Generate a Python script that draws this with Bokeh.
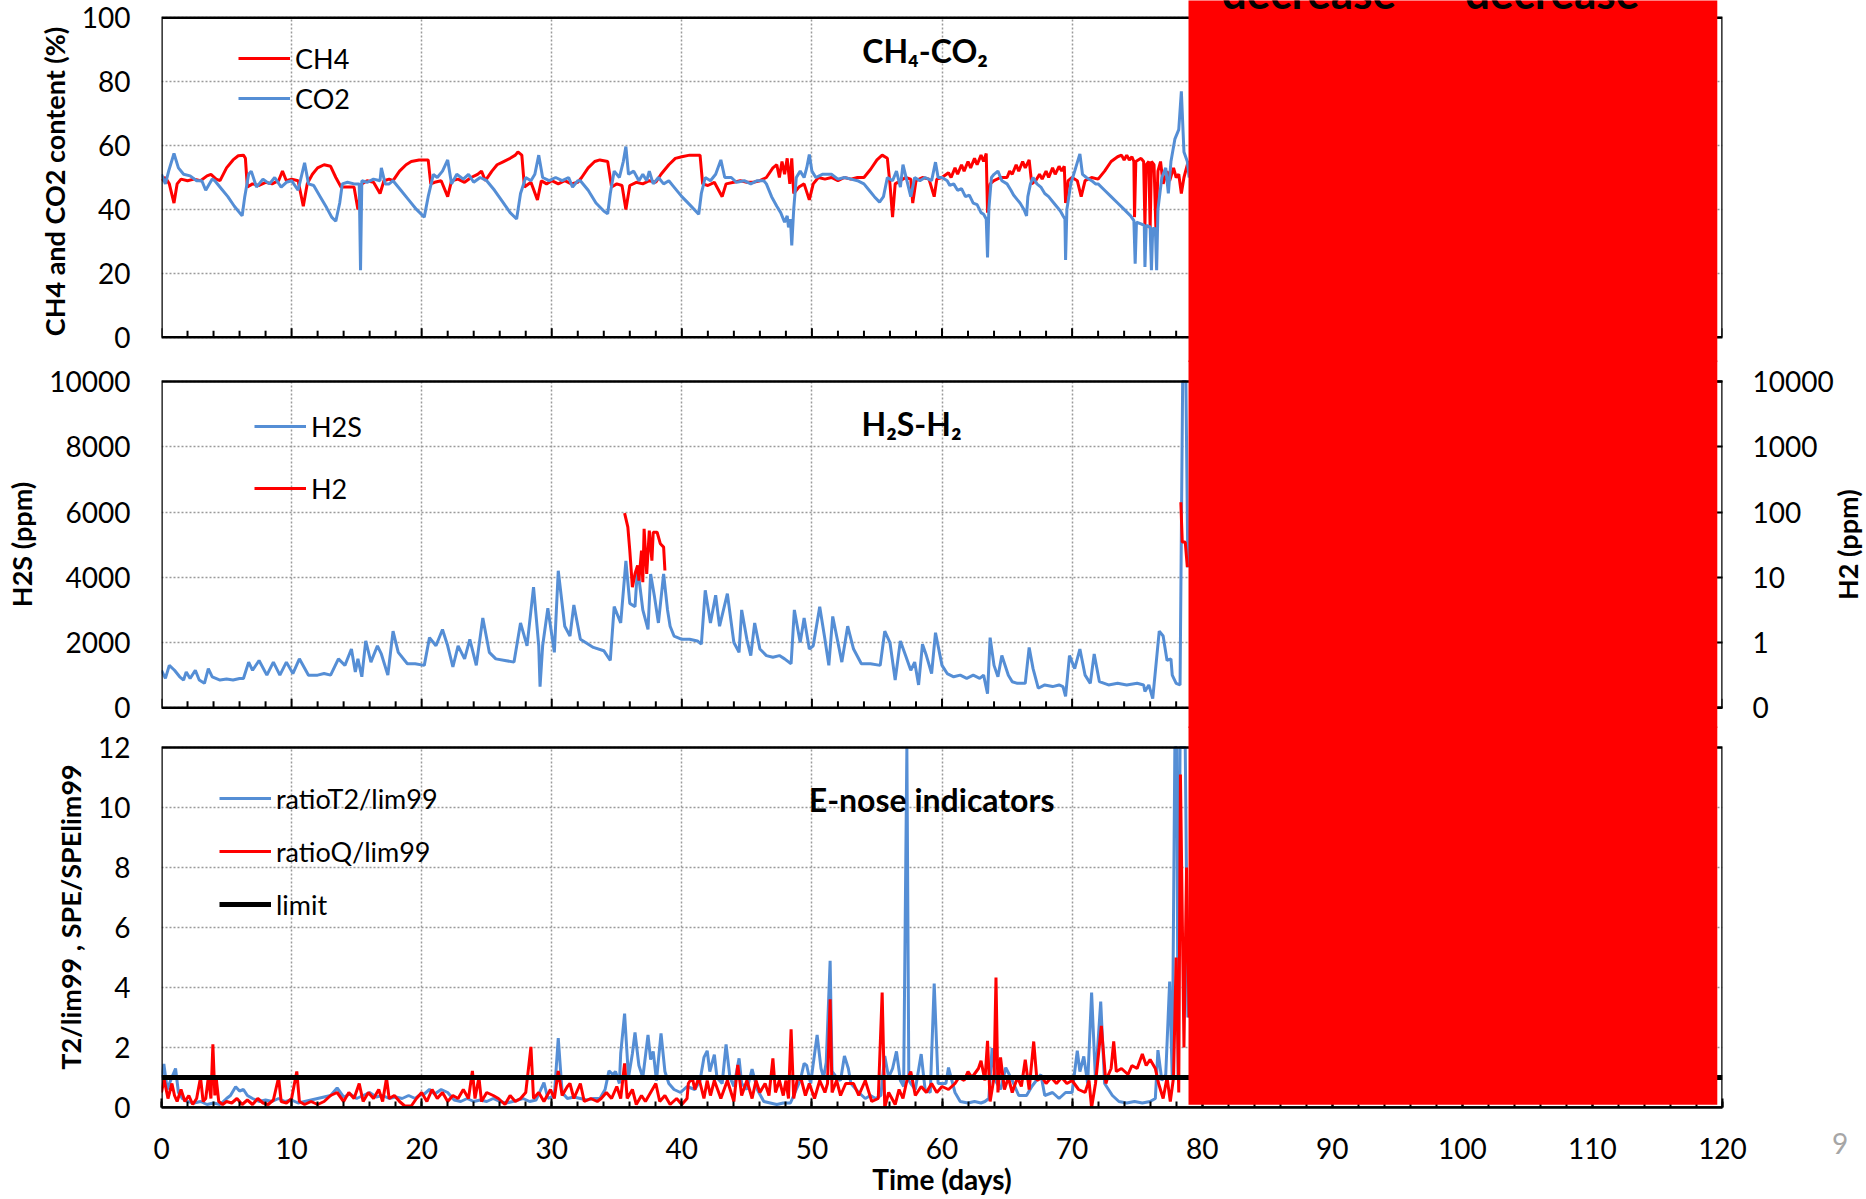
import math
from bokeh.plotting import figure
from bokeh.layouts import column
from bokeh.models import (Range1d, LinearAxis, LogScale, FixedTicker, Div,
                          SingleIntervalTicker, CustomJSTickFormatter, Legend,
                          LegendItem, Grid, Label, BoxAnnotation)
from bokeh.embed import file_html
from bokeh.resources import INLINE

# ---------------- data ----------------
ch4_points = [(0.0,49),(0.3,50),(0.6,48),(0.96,42),(1.2,48),(1.5,49.5),(2.0,49),(2.5,49.5),(3.0,49),
 (3.5,50.5),(3.8,51),(4.2,49.5),(4.5,49),(5.0,53),(5.5,55.5),(5.9,56.8),(6.3,57),(6.45,56),(6.6,47),
 (7.0,48),(7.5,47.5),(8.0,48.5),(8.5,48),(9.0,49),(9.3,52),(9.6,49),(10.0,49.5),(10.5,49),(10.9,41),
 (11.2,48),(11.6,51),(12.0,53),(12.5,54),(13.0,53.5),(13.4,50),(13.8,47),(14.2,47),(14.8,47),(15.1,40),
 (15.4,48),(15.8,49),(16.3,48.5),(16.8,45),(17.1,49),(17.5,49.5),(17.8,49),(18.3,52),(18.8,54),(19.2,55),
 (19.8,55.5),(20.5,55.5),(20.7,48),(21.0,48.5),(21.5,49),(22.0,44),(22.3,49),(22.8,49.5),(23.3,48.5),
 (23.8,50),(24.3,51),(24.6,52),(24.9,49),(25.4,52),(25.8,54),(26.3,55),(26.8,56),(27.2,57),(27.4,58),
 (27.7,57),(27.9,47),(28.4,48.5),(28.9,43),(29.2,49),(29.6,48),(30.0,49),(30.5,48),(31.0,49),(31.5,48),
 (32.0,48.5),(32.3,50),(32.8,53),(33.3,55),(33.7,55.5),(34.3,55),(34.6,47),(35.0,48),(35.4,47.5),(35.7,40),
 (36.0,47.5),(36.5,48.5),(37.0,48),(37.5,49),(38.0,48.5),(38.4,51),(39.0,54),(39.5,56),(40.0,56.5),
 (40.6,57),(41.4,57),(41.6,48),(42.0,47.5),(42.5,48.5),(43.1,44),(43.4,48),(44.0,48.5),(44.5,49),
 (45.0,48.5),(45.5,48.5),(46.0,49),(46.5,50),(47.0,53),(47.3,54),(47.5,50),(47.7,55),(47.9,51),(48.1,56),
 (48.3,48),(48.45,56),(48.6,45),(49.0,47),(49.4,48),(49.8,43),(50.1,48),(50.5,50),(51.0,49.5),(51.5,50),
 (52.0,49),(52.5,50),(53.0,49.5),(53.5,50),(54.0,50),(54.5,52.5),(55.0,55.5),(55.4,57),(55.8,56),(56.0,48),
 (56.2,37.6),(56.4,48),(56.8,49),(57.2,50),(57.6,49.5),(57.75,42),(58.0,49),(58.5,50),(59.0,49.5),(59.4,44),
 (59.6,49.5),(60.0,50),(60.5,51.5),(60.7,50),(61.0,53),(61.2,51),(61.5,54),(61.7,52),(62.0,55),(62.2,53),
 (62.5,56),(62.7,54),(63.0,57),(63.2,55),(63.4,57.5),(63.5,39),(63.7,48),(64.0,49),(64.5,50),(65.0,50),
 (65.2,52),(65.4,51),(65.7,54),(65.9,52),(66.2,55),(66.4,53),(66.7,55.5),(66.9,48),(67.2,49),(67.5,51),
 (67.7,49.5),(68.0,52),(68.2,50),(68.5,53),(68.7,51),(69.0,53.5),(69.2,52),(69.4,53.5),(69.5,42),(69.7,49),
 (70.0,50),(70.4,49),(70.7,44),(71.0,49),(71.5,50),(72.0,49.5),(72.5,52),(73.0,55),(73.5,56.5),(73.8,57),
 (74.0,55.5),(74.2,57),(74.4,55.5),(74.6,56.5),(74.75,55),(74.8,37.6),(74.9,55),(75.3,56),(75.5,55),
 (75.6,35),(75.7,54),(75.9,55),(76.0,34),(76.1,55),(76.3,54),(76.45,33),(76.6,52),(76.8,55),(77.0,48),
 (77.3,52),(77.5,49),(77.8,53),(78.0,50),(78.2,51),(78.4,45),(78.6,50),(78.86,54),(79.0,55)]

co2_points = [(0.0,51),(0.3,48),(0.55,52),(0.96,57.5),(1.3,53),(1.7,51),(2.2,50.5),(2.7,49),(3.1,49),
 (3.4,46),(3.9,49.5),(4.1,49),(4.6,46.5),(5.1,44),(5.6,41),(6.2,38),(6.4,44),(6.7,51),(6.9,52),(7.3,47),
 (7.8,49.5),(8.3,48),(8.7,50),(9.2,47),(9.6,48.5),(10.0,49),(10.5,46),(11.0,54.6),(11.3,48),(11.7,47.5),
 (12.2,44),(12.7,40.5),(13.1,37.5),(13.4,36.3),(13.7,42),(13.9,48),(14.3,48.5),(14.8,48),(15.2,48),
 (15.3,21),(15.4,49),(15.8,48.5),(16.3,49.5),(16.8,49),(16.9,53),(17.2,48),(17.5,48),(17.8,49),(18.4,46),
 (19.0,43),(19.6,40),(20.2,37.6),(20.5,44),(20.9,51),(21.2,50),(21.6,52),(22.0,55.5),(22.3,48),(22.7,51),
 (23.2,49.5),(23.6,51),(24.0,48.5),(24.5,50),(25.0,49),(25.6,46),(26.2,42.5),(26.8,39),(27.3,37),
 (27.6,45),(28.0,50),(28.4,49),(28.7,51),(29.0,57),(29.3,50),(29.8,49),(30.3,50),(30.8,49),(31.3,50),
 (31.6,47),(32.0,49),(32.2,49),(32.8,46),(33.4,42),(34.0,39.5),(34.3,38.6),(34.5,45),(34.8,52),(35.2,50),
 (35.5,55),(35.7,59.7),(35.9,51),(36.3,52),(36.7,49),(37.0,51),(37.3,49),(37.5,52),(37.8,48),(38.2,50),
 (38.6,48),(39.0,49),(39.4,47),(40.0,44),(40.6,41.5),(41.3,38.5),(41.5,45),(41.8,50),(42.2,49),(42.6,51),
 (43.0,55.5),(43.3,50),(43.8,50),(44.2,48.5),(44.8,49),(45.3,48),(45.8,49),(46.3,49),(46.5,48),(46.9,44),
 (47.3,41),(47.6,39),(47.9,36),(48.1,38),(48.2,34.4),(48.35,37),(48.45,28.7),(48.6,40),(48.8,50),(49.1,52),
 (49.4,50),(49.6,53),(49.8,57.2),(50.0,52),(50.3,50),(50.8,51),(51.5,51),(52.0,49.5),(52.5,50),(53.0,49.5),
 (53.5,49),(54.0,48),(54.4,46),(54.8,44),(55.2,42.3),(55.5,44),(55.8,50),(56.2,49),(56.5,52),(56.8,47),
 (57.0,54),(57.3,49),(57.6,44),(57.9,50),(58.3,49),(58.7,50),(59.2,49),(59.5,54.8),(59.7,50),(60.0,50),
 (60.4,49),(60.6,47.5),(60.9,48),(61.2,46),(61.5,46.5),(61.8,44),(62.1,44.5),(62.4,42),(62.7,41.5),
 (63.0,39),(63.2,38.5),(63.4,37),(63.5,25),(63.6,40),(63.8,50),(64.0,51),(64.3,52),(64.6,49),(65.0,48),
 (65.3,46),(65.5,44.5),(65.8,43),(66.0,42),(66.3,40),(66.5,38),(66.6,44),(66.8,48),(67.0,50),(67.3,48),
 (67.6,47),(67.9,45),(68.2,44),(68.5,42.5),(68.8,41),(69.1,39.5),(69.3,38),(69.45,37),(69.5,24.2),
 (69.6,40),(69.9,48),(70.2,52),(70.6,57.4),(70.8,51),(71.1,50),(71.5,49),(71.8,48),(72.0,48),(72.5,46),
 (73.0,44),(73.5,42),(74.0,40),(74.5,38),(74.75,36.5),(74.85,23),(74.95,36),(75.3,35.5),(75.55,35),
 (75.6,22),(75.7,35),(76.0,34.5),(76.1,21),(76.2,34),(76.4,34),(76.5,21),(76.6,40),(76.9,50),(77.2,53),
 (77.4,45),(77.6,55),(77.9,62),(78.2,65),(78.4,77),(78.6,58),(78.86,55),(79.0,50)]

h2s_points = [(0.0,1150),(0.3,900),(0.6,1300),(1.0,1150),(1.4,950),(1.7,850),(1.9,1100),(2.2,900),
 (2.6,1150),(2.9,850),(3.3,750),(3.6,1200),(3.9,950),(4.5,850),(5.0,880),(5.5,850),(6.0,900),(6.3,900),
 (6.7,1400),(7.0,1150),(7.5,1450),(8.1,1000),(8.6,1400),(9.1,1000),(9.6,1400),(10.1,1050),(10.6,1500),
 (11.3,1000),(12.0,1000),(12.5,1050),(13.0,1000),(13.6,1500),(14.1,1300),(14.6,1800),(14.9,1100),
 (15.1,1500),(15.4,950),(15.7,2050),(16.1,1400),(16.6,1900),(16.9,1650),(17.4,1000),(17.8,2350),
 (18.2,1700),(18.9,1350),(19.5,1350),(20.2,1300),(20.6,2150),(21.1,1900),(21.6,2400),(22.0,1900),
 (22.4,1250),(22.8,1900),(23.3,1500),(23.7,2100),(24.2,1300),(24.7,2750),(25.2,1700),(25.7,1500),
 (26.4,1450),(27.1,1400),(27.6,2600),(28.1,1900),(28.6,3700),(29.0,1900),(29.1,650),(29.3,1900),
 (29.7,3050),(30.2,1700),(30.5,4200),(31.0,2500),(31.4,2200),(31.7,3150),(32.2,2100),(32.6,2000),
 (33.2,1850),(34.0,1750),(34.5,1450),(34.8,3100),(35.3,2600),(35.7,4500),(36.0,3200),(36.4,3100),
 (36.6,4300),(37.0,3000),(37.4,2400),(37.6,4100),(37.9,3400),(38.2,2600),(38.6,4100),(38.9,3000),
 (39.1,2500),(39.4,2200),(40.0,2100),(40.6,2100),(41.2,2050),(41.5,1950),(41.8,3600),(42.2,2600),
 (42.6,3450),(42.9,2500),(43.5,3500),(44.0,2000),(44.4,1700),(44.6,3000),(45.0,2100),(45.3,1600),
 (45.6,2600),(46.0,1800),(46.5,1600),(47.0,1550),(47.5,1600),(47.9,1500),(48.4,1350),(48.65,3000),
 (49.1,2000),(49.4,2750),(49.8,1800),(50.1,1900),(50.6,3100),(51.0,2100),(51.3,1300),(51.6,2800),
 (52.0,2000),(52.3,1400),(52.75,2500),(53.2,1800),(53.8,1350),(54.5,1350),(55.25,1300),(55.6,2350),
 (56.0,2000),(56.4,850),(56.8,2050),(57.2,1600),(57.6,1150),(57.9,1400),(58.2,700),(58.5,1950),
 (58.8,1600),(59.2,1050),(59.5,2300),(60.0,1300),(60.4,1050),(60.9,950),(61.4,1000),(61.9,900),
 (62.4,1000),(62.9,900),(63.2,1000),(63.5,430),(63.7,2150),(64.0,1300),(64.3,950),(64.6,1600),
 (65.1,1000),(65.4,800),(65.8,750),(66.4,750),(66.7,1850),(67.0,1200),(67.4,600),(67.9,700),(68.5,650),
 (69.0,700),(69.3,650),(69.5,350),(69.8,1600),(70.2,1200),(70.6,1800),(71.0,1000),(71.4,750),(71.7,1650),
 (72.1,800),(72.8,700),(73.5,750),(74.2,700),(75.0,750),(75.5,700),(75.6,500),(75.9,700),(76.2,280),
 (76.7,2350),(77.0,2200),(77.3,1450),(77.6,1500),(77.7,1000),(78.0,750),(78.3,700),(78.5,10000),
 (78.75,10000),(78.9,4300)]

h2_points = [(35.6,96),(35.85,58.6),(36.0,25.7),(36.2,7.06),(36.4,11.3),(36.6,15.2),(36.7,8.9),
 (36.9,25.7),(37.0,8.4),(37.1,55.3),(37.3,11.3),(37.5,52),(37.7,18),(37.8,49),(38.1,49),(38.35,32.6),
 (38.6,29),(38.7,12.7),(58.0,float("nan")),(78.36,141),(78.47,34.6),(78.7,34.6),(78.86,14.3)]

t2_points = [(0.0,1.0),(0.18,1.45),(0.44,0.6),(0.7,0.9),(1.08,1.3),(1.3,0.5),(1.6,0.3),(2.0,0.2),
 (2.5,0.15),(3.0,0.2),(3.5,0.1),(4.0,0.15),(4.5,0.1),(5.0,0.3),(5.3,0.4),(5.7,0.69),(6.0,0.55),(6.3,0.6),
 (6.6,0.4),(7.0,0.3),(7.5,0.2),(8.0,0.25),(8.5,0.2),(9.0,0.3),(9.5,0.2),(10.0,0.25),(10.5,0.15),(11.0,0.2),
 (11.5,0.25),(12.0,0.3),(12.5,0.35),(13.0,0.4),(13.5,0.65),(14.0,0.35),(14.5,0.45),(15.0,0.3),(15.5,0.4),
 (16.0,0.5),(16.5,0.35),(17.0,0.4),(17.5,0.3),(18.0,0.35),(18.5,0.3),(19.0,0.4),(19.5,0.3),(19.8,0.4),
 (20.2,0.45),(20.6,0.6),(21.0,0.45),(21.5,0.6),(22.0,0.5),(22.5,0.25),(23.0,0.2),(23.5,0.3),(24.0,0.2),
 (24.5,0.25),(25.0,0.2),(25.5,0.3),(26.0,0.2),(26.5,0.15),(27.0,0.2),(27.8,0.3),(28.3,0.2),(28.8,0.25),
 (29.4,0.83),(29.7,0.3),(30.2,0.4),(30.5,2.31),(30.8,0.5),(31.2,0.3),(31.7,0.35),(32.2,0.3),(32.7,0.25),
 (33.2,0.3),(33.7,0.3),(34.1,0.6),(34.4,1.22),(34.7,1.1),(34.9,1.2),(35.2,0.8),(35.3,1.8),(35.6,3.13),
 (35.9,1.0),(36.2,1.8),(36.4,2.5),(36.7,1.4),(37.0,1.0),(37.4,2.42),(37.6,1.6),(37.8,1.87),(38.05,0.9),
 (38.4,2.47),(38.7,1.2),(39.0,0.8),(39.4,0.6),(39.9,0.5),(40.4,0.7),(41.0,0.6),(41.4,0.9),(41.7,1.67),
 (41.95,1.89),(42.15,1.2),(42.5,1.76),(42.7,1.0),(43.1,0.8),(43.4,2.1),(43.7,1.0),(44.0,0.7),(44.4,1.64),
 (44.6,0.8),(45.0,0.6),(45.4,1.28),(45.8,0.6),(46.3,0.2),(46.8,0.15),(47.3,0.1),(47.8,0.15),(48.35,0.15),
 (48.7,0.5),(49.1,0.9),(49.4,1.47),(49.6,1.4),(49.9,0.8),(50.4,2.42),(50.7,1.3),(50.9,1.0),(51.1,1.5),
 (51.4,4.89),(51.55,1.2),(51.9,1.0),(52.2,0.9),(52.5,1.72),(52.8,1.3),(53.0,0.8),(53.6,0.5),(54.1,0.3),
 (54.5,0.4),(54.9,0.3),(55.3,0.4),(55.6,1.72),(55.9,1.0),(56.2,1.3),(56.5,1.87),(56.8,0.9),(57.05,0.7),
 (57.3,12.0),(57.45,0.9),(57.6,0.8),(57.95,0.6),(58.4,1.78),(58.7,0.6),(59.1,0.5),(59.4,4.13),(59.7,0.8),
 (60.3,0.8),(60.5,1.33),(61.0,0.5),(61.4,0.2),(62.0,0.15),(62.5,0.2),(63.0,0.15),(63.3,0.2),(63.6,0.3),
 (63.85,1.98),(64.1,0.9),(64.5,0.6),(64.9,1.33),(65.4,0.9),(65.9,0.4),(66.5,0.4),(66.9,0.7),(67.6,1.1),
 (67.9,0.4),(68.5,0.5),(69.0,0.3),(69.5,0.5),(70.0,0.5),(70.4,1.89),(70.6,1.2),(70.9,1.7),(71.2,0.8),
 (71.5,3.83),(71.8,0.9),(72.2,3.53),(72.5,0.8),(72.8,0.6),(73.1,0.4),(73.6,0.2),(74.2,0.15),(74.8,0.2),
 (75.4,0.15),(76.0,0.2),(76.4,0.3),(76.6,1.91),(76.9,0.9),(77.2,1.1),(77.5,4.2),(77.7,1.0),(77.9,12.0),
 (78.05,12.0),(78.15,1.0),(78.3,12.0),(78.7,12.0),(78.9,3.0)]

q_points = [(0.0,0.5),(0.2,0.94),(0.5,0.3),(0.8,0.8),(1.0,0.4),(1.2,0.2),(1.5,0.6),(1.8,0.2),(2.1,0.4),
 (2.4,0.1),(2.7,0.3),(3.0,1.0),(3.2,0.2),(3.4,0.3),(3.6,1.0),(3.8,0.3),(3.95,2.11),(4.1,0.4),(4.2,1.0),
 (4.4,0.2),(4.7,0.1),(5.0,0.2),(5.4,0.15),(5.8,0.3),(6.2,0.1),(6.6,0.25),(7.0,0.1),(7.4,0.3),(7.8,0.15),
 (8.2,0.1),(8.6,0.25),(9.0,1.0),(9.2,0.2),(9.6,0.15),(10.0,0.3),(10.4,1.2),(10.6,0.2),(11.0,0.1),(11.5,0.2),
 (12.0,0.1),(12.5,0.2),(13.0,0.4),(13.5,0.5),(14.0,0.2),(14.4,0.5),(14.8,0.3),(15.2,0.8),(15.5,0.2),
 (15.9,0.5),(16.3,0.3),(16.7,0.6),(17.0,0.2),(17.3,0.98),(17.5,0.3),(17.9,0.4),(18.3,0.2),(18.7,0.05),
 (19.2,0.05),(19.6,0.3),(20.0,0.5),(20.4,0.2),(20.8,0.6),(21.2,0.3),(21.6,0.5),(22.0,0.2),(22.4,0.4),
 (22.8,0.3),(23.2,0.6),(23.6,0.3),(23.9,1.22),(24.1,0.3),(24.4,1.0),(24.6,0.2),(25.0,0.5),(25.5,0.4),
 (25.9,0.3),(26.4,0.1),(26.8,0.4),(27.2,0.2),(27.6,0.3),(28.0,0.5),(28.4,2.02),(28.6,0.3),(29.0,0.5),
 (29.4,0.2),(29.9,0.6),(30.2,0.3),(30.5,1.22),(30.8,0.4),(31.2,0.7),(31.4,0.8),(31.7,0.3),(32.0,0.6),
 (32.2,0.8),(32.5,0.2),(33.0,0.3),(33.5,0.2),(33.8,0.3),(34.2,0.5),(34.6,0.3),(35.0,0.7),(35.3,0.3),
 (35.6,1.47),(35.8,0.3),(36.2,0.6),(36.5,0.1),(36.9,0.4),(37.2,0.2),(37.6,0.5),(38.0,0.8),(38.3,0.2),
 (38.7,0.4),(39.1,0.1),(39.6,0.3),(40.0,0.1),(40.4,0.3),(40.5,0.8),(40.8,1.0),(41.0,0.6),(41.3,1.0),
 (41.7,0.3),(41.95,0.9),(42.2,0.4),(42.5,0.9),(43.0,0.3),(43.5,0.9),(44.0,0.2),(44.3,1.42),(44.6,0.4),
 (45.0,0.9),(45.4,0.3),(45.7,0.9),(46.0,0.5),(46.4,0.8),(46.7,0.4),(47.0,1.64),(47.2,0.5),(47.5,0.9),
 (47.8,0.4),(48.0,0.9),(48.2,0.3),(48.4,2.61),(48.6,0.3),(48.9,1.0),(49.2,0.9),(49.5,0.4),(49.8,0.8),
 (50.2,0.3),(50.6,0.9),(51.0,0.5),(51.2,0.8),(51.4,3.61),(51.55,0.5),(51.9,0.9),(52.2,0.4),(52.6,0.8),
 (53.2,0.8),(53.6,0.4),(54.1,0.9),(54.6,0.2),(55.1,0.3),(55.4,3.83),(55.6,0.0),(55.9,0.5),(56.4,0.1),
 (56.7,0.6),(57.0,0.3),(57.3,0.9),(57.6,1.2),(57.95,0.4),(58.4,0.7),(58.8,0.5),(59.2,0.8),(59.6,0.5),
 (60.0,0.7),(60.5,0.6),(61.0,0.8),(61.3,1.0),(61.7,0.9),(62.0,1.2),(62.3,1.0),(62.8,1.3),(63.0,1.56),
 (63.3,0.9),(63.5,2.22),(63.7,0.2),(64.0,1.0),(64.15,4.33),(64.3,0.5),(64.5,1.67),(64.8,0.6),(65.1,1.0),
 (65.4,0.5),(65.8,1.0),(66.1,0.7),(66.4,1.59),(66.7,0.6),(67.05,2.2),(67.3,0.9),(67.7,1.0),(68.0,0.8),
 (68.4,1.0),(68.8,0.8),(69.2,1.0),(69.6,0.8),(70.0,0.9),(70.5,0.6),(71.0,0.5),(71.3,0.9),(71.5,0.0),
 (71.8,0.8),(72.25,2.72),(72.6,0.8),(72.8,1.1),(73.0,1.3),(73.2,2.2),(73.4,1.2),(73.8,1.3),(74.3,1.1),
 (74.6,1.4),(75.0,1.3),(75.4,1.78),(75.7,1.4),(76.0,1.6),(76.4,1.3),(76.65,0.8),(77.0,0.3),(77.3,1.0),
 (77.55,0.2),(77.8,1.0),(78.0,5.0),(78.2,0.5),(78.33,11.1),(78.6,2.0),(78.8,8.0),(79.0,3.0)]

ch4_day = [d for d, v in ch4_points]; ch4_pct = [v for d, v in ch4_points]
co2_day = [d for d, v in co2_points]; co2_pct = [v for d, v in co2_points]
h2s_day = [d for d, v in h2s_points]; h2s_ppm = [v for d, v in h2s_points]
h2_day = [d for d, v in h2_points]; h2_ppm = [v for d, v in h2_points]
t2_day = [d for d, v in t2_points]; t2_ratio = [v for d, v in t2_points]
q_day = [d for d, v in q_points]; q_ratio = [v for d, v in q_points]
limit_day = [0, 120]; limit_val = [1, 1]

x_major = list(range(0, 121, 10))
x_minor = [v for v in range(0, 121, 2) if v % 10]
x_grid = list(range(10, 111, 10))
y1_ticks = [0, 20, 40, 60, 80, 100]
y2_ticks = [0, 2000, 4000, 6000, 8000, 10000]
h2_tick_exp = [-1, 0, 1, 2, 3, 4]          # decades 0.1 ... 10000 ppm
y3_ticks = [0, 2, 4, 6, 8, 10, 12]
cover_left, cover_right = 78.95, 119.6   # red overlay extent (days)

# ---------------- style / geometry ----------------
FONT = "Lato"
RED = "#FF0000"
BLUE = "#558ED5"
GRIDC = "#9a9a9a"
W = 1866
LB, RB = 161, 144
TICKFS = "28px"
BIG = 1e9
OV = 2                      # pixel overlap between stacked figures
F1_END = 362                # figure 1 covers canvas y 0..362
Y2 = F1_END - OV            # figure 2 covers Y2..F2_END
F2_END = 728
Y3 = F2_END - OV            # figure 3 covers Y3..1199
H2LAB_TOP, H2LAB_H = 485, 120

def base_fig(h, yr, bottom_border=0, xloc=None, transparent=False, **kw):
    p = figure(width=W, height=h, x_range=Range1d(0, 120), y_range=yr,
               output_backend="svg", toolbar_location=None, title=None,
               x_axis_location=xloc, y_axis_location="left",
               min_border_left=LB, min_border_right=RB, min_border_top=0,
               min_border_bottom=bottom_border, **kw)
    p.outline_line_color = None
    if transparent:
        p.background_fill_alpha = 0
        p.border_fill_alpha = 0
    else:
        p.background_fill_color = "white"
        p.border_fill_color = "white"
    for g in list(p.center):
        if isinstance(g, Grid):
            g.visible = False
    return p

def style_left(ax, ticks, label):
    ax.ticker = FixedTicker(ticks=ticks)
    ax.axis_line_color = None
    ax.major_tick_in = 0; ax.major_tick_out = 0
    ax.minor_tick_in = 0; ax.minor_tick_out = 0
    ax.major_tick_line_color = None; ax.minor_tick_line_color = None
    ax.major_label_standoff = 31
    ax.major_label_text_font = FONT
    ax.major_label_text_font_size = TICKFS
    ax.major_label_text_color = "black"
    ax.axis_label = label
    ax.axis_label_text_font = FONT
    ax.axis_label_text_font_style = "bold"
    ax.axis_label_text_font_size = "27px"
    ax.axis_label_text_color = "black"
    ax.axis_label_standoff = 8

def add_grids(p, yticks, ybot, ytop):
    p.add_layout(Grid(dimension=1, ticker=FixedTicker(ticks=yticks), grid_line_color=GRIDC,
                      grid_line_dash="2 2", grid_line_width=1.5))
    try:
        g = Grid(dimension=0, ticker=FixedTicker(ticks=x_grid), grid_line_color=GRIDC,
                 grid_line_dash="2 2", grid_line_width=1.5, cross_bounds=(ybot, ytop))
        p.add_layout(g)
    except Exception:
        p.segment(x0=x_grid, y0=[ybot]*len(x_grid), x1=x_grid, y1=[ytop]*len(x_grid),
                  line_color=GRIDC, line_dash="2 2", line_width=1.5)

def add_box(p, ybot, ytop):
    p.quad(left=[0], right=[120], bottom=[ybot], top=[ytop], fill_color=None,
           line_color="black", line_width=2.5)

def add_inner_xticks(p, ybase, major_len, minor_len):
    p.segment(x0=x_major, y0=[ybase]*len(x_major), x1=x_major, y1=[ybase+major_len]*len(x_major),
              line_color="black", line_width=2)
    p.segment(x0=x_minor, y0=[ybase]*len(x_minor), x1=x_minor, y1=[ybase+minor_len]*len(x_minor),
              line_color="black", line_width=2)

def make_legend(p, items, loc, spacing):
    leg = Legend(items=items, location=loc, glyph_width=52, glyph_height=34, label_height=34,
                 label_standoff=5, spacing=spacing, padding=0, margin=0,
                 border_line_color=None, background_fill_alpha=0,
                 label_text_font=FONT, label_text_font_size="27px", label_text_color="black")
    p.add_layout(leg)

def cover(p, bottom=-BIG, top=BIG):
    p.add_layout(BoxAnnotation(left=cover_left, right=cover_right, bottom=bottom, top=top,
                               fill_color=RED, fill_alpha=1.0, line_alpha=0))

def title_label(p, x, y, text):
    p.add_layout(Label(x=x, y=y, text=text, text_font=FONT, text_font_style="bold",
                       text_font_size="32px", text_align="center", text_baseline="alphabetic",
                       text_color="black"))

# ---------------- panel 1 : CH4 / CO2 ----------------
ppu1 = 319.4 / 100.0
p1 = base_fig(F1_END, Range1d(-(F1_END - 336.7) / ppu1, 100 + 17.3 / ppu1))
style_left(p1.yaxis[0], y1_ticks, "CH4 and CO2 content (%)")
add_grids(p1, y1_ticks, 0, 100)
r_ch4 = p1.line(ch4_day, ch4_pct, line_color=RED, line_width=3)
r_co2 = p1.line(co2_day, co2_pct, line_color=BLUE, line_width=3)
add_inner_xticks(p1, 0, 9 / ppu1, 6.5 / ppu1)
add_box(p1, 0, 100)
make_legend(p1, [LegendItem(label="CH4", renderers=[r_ch4]),
                 LegendItem(label="CO2", renderers=[r_co2])], (77, F1_END - 115), 6)
title_label(p1, 58.7, 86.6 + 10 / ppu1, "CH\u2084-CO\u2082")
cover(p1)
for xc in (88.2, 106.9):
    p1.add_layout(Label(x=xc, y=100 + (17.3 - 7 + 16) / ppu1, text="decrease", text_font=FONT,
                        text_font_style="bold", text_font_size="44px", text_align="center",
                        text_baseline="alphabetic", text_color="black"))

# ---------------- panel 2 : H2S / H2 ----------------
H2F = F2_END - Y2
P2_TOP, P2_BOT = 381 - Y2, 707.3 - Y2
ppu2 = (P2_BOT - P2_TOP) / 10000.0
dec = (P2_BOT - P2_TOP) / 5.0
e_lo = -1 - (H2F - P2_BOT) / dec
e_hi = 4 + P2_TOP / dec
p2 = base_fig(H2F, Range1d(-(H2F - P2_BOT) / ppu2, 10000 + P2_TOP / ppu2), transparent=True,
              extra_y_ranges={"h2": Range1d(10 ** e_lo, 10 ** e_hi),
                              "h2exp": Range1d(e_lo, e_hi)},
              extra_y_scales={"h2": LogScale()})
style_left(p2.yaxis[0], y2_ticks, "H2S (ppm)")
add_grids(p2, y2_ticks, 0, 10000)
r_h2s = p2.line(h2s_day, h2s_ppm, line_color=BLUE, line_width=3)
r_h2 = p2.line(h2_day, h2_ppm, line_color=RED, line_width=3, y_range_name="h2")
add_inner_xticks(p2, 0, 9 / ppu2, 6.5 / ppu2)
add_box(p2, 0, 10000)
ra = LinearAxis(y_range_name="h2exp", ticker=FixedTicker(ticks=h2_tick_exp),
                formatter=CustomJSTickFormatter(
                    code="return tick < 0 ? '0' : String(Math.round(Math.pow(10, tick)));"))
ra.axis_line_color = None
ra.major_tick_in = 6; ra.major_tick_out = 0
ra.minor_tick_in = 0; ra.minor_tick_out = 0; ra.minor_tick_line_color = None
ra.major_tick_line_width = 2
ra.major_label_standoff = 30
ra.major_label_text_font = FONT
ra.major_label_text_font_size = TICKFS
ra.major_label_text_color = "black"
p2.add_layout(ra, "right")
legend2_bottom = 505.3 - Y2
make_legend(p2, [LegendItem(label="H2S", renderers=[r_h2s]),
                 LegendItem(label="H2", renderers=[r_h2])], (93, round(H2F - legend2_bottom)), 28)
title_label(p2, 57.66, 8407 + 10 / ppu2, "H\u2082S-H\u2082")
cover(p2)
p2.margin = (-OV, 0, 0, 0)

# right-hand axis title of panel 2 (reads bottom to top)
h2_title = Div(text='<div style="writing-mode: vertical-rl; transform: rotate(180deg); '
                    'font-family: Lato; font-weight: bold; font-size: 27px; line-height: 28px; '
                    'white-space: nowrap; color: black; height: %dpx; text-align: center;">'
                    'H2 (ppm)</div>' % H2LAB_H,
               width=28, height=H2LAB_H,
               margin=(H2LAB_TOP - F2_END, 0, 0, 1834))

# ---------------- panel 3 : E-nose ----------------
H3F = 1199 - Y3
p3 = base_fig(H3F, Range1d(0, (1107 - Y3) / 30.0), bottom_border=92, xloc="below", transparent=True)
style_left(p3.yaxis[0], y3_ticks, "T2/lim99 , SPE/SPElim99")
add_grids(p3, y3_ticks, 0, 12)
r_t2 = p3.line(t2_day, t2_ratio, line_color=BLUE, line_width=3)
r_q = p3.line(q_day, q_ratio, line_color=RED, line_width=3)
r_lim = p3.line(limit_day, limit_val, line_color="black", line_width=5)
add_box(p3, 0, 12)
xa = p3.xaxis[0]
xa.ticker = SingleIntervalTicker(interval=10, num_minor_ticks=5)
xa.major_tick_in = 9; xa.major_tick_out = 0
xa.minor_tick_in = 6; xa.minor_tick_out = 0
xa.axis_line_width = 2.5
xa.major_tick_line_width = 2; xa.minor_tick_line_width = 2
xa.major_label_standoff = 30
xa.major_label_text_font = FONT
xa.major_label_text_font_size = TICKFS
xa.major_label_text_color = "black"
xa.axis_label = "Time (days)"
xa.axis_label_text_font = FONT
xa.axis_label_text_font_style = "bold"
xa.axis_label_text_font_size = "28px"
xa.axis_label_text_color = "black"
xa.axis_label_standoff = 0
make_legend(p3, [LegendItem(label="ratioT2/lim99", renderers=[r_t2]),
                 LegendItem(label="ratioQ/lim99", renderers=[r_q]),
                 LegendItem(label="limit", renderers=[r_lim])], (58, 186), 19)
title_label(p3, 59.2, 9.84 + 13 / 30.0, "E-nose indicators")
cover(p3, bottom=0.09)
p3.margin = (Y3 - (H2LAB_TOP + H2LAB_H), 0, 0, 0)

# page number
page_style = "font-family: Lato; font-size: 28px; color: #a6a6a6; line-height: 34px;"
page = Div(text='<div style="%s">9</div>' % page_style, width=24, height=36,
           margin=(-73, 0, 0, 1832))

layout = column(p1, p2, h2_title, p3, page, spacing=0)
open("out.html", "w").write(file_html(layout, INLINE))
